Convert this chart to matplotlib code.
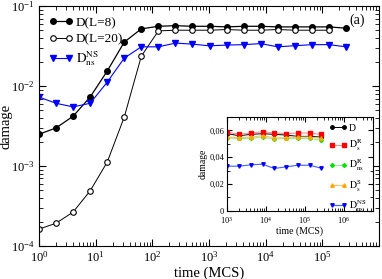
import numpy as np
import matplotlib
matplotlib.use("Agg")
import matplotlib.pyplot as plt
from matplotlib.ticker import LogLocator, NullFormatter, FixedLocator, FixedFormatter

plt.rcParams['font.family'] = ['Liberation Serif', 'DejaVu Serif']
plt.rcParams['mathtext.fontset'] = 'stix'

# main panel data (time in MCS = 2^n)
t8 = 2.0 ** np.arange(19)
d_L8 = [2.5e-3, 3.0e-3, 4.2e-3, 7.3e-3, 1.54e-2, 3.55e-2, 5.2e-2, 5.6e-2, 5.7e-2,
        5.6e-2, 5.6e-2, 5.5e-2, 5.6e-2, 5.6e-2, 5.5e-2, 5.5e-2, 5.5e-2, 5.5e-2, 5.3e-2]
t20 = 2.0 ** np.arange(18)
d_L20 = [1.63e-4, 1.93e-4, 2.66e-4, 4.9e-4, 1.12e-3, 4.1e-3, 2.37e-2, 4.9e-2, 5.0e-2,
         5.0e-2, 5.0e-2, 5.1e-2, 5.0e-2, 5.0e-2, 5.1e-2, 5.0e-2, 5.0e-2, 5.0e-2]
d_nsNS = [7.3e-3, 6.1e-3, 5.5e-3, 6.1e-3, 1.12e-2, 2.24e-2, 3.1e-2, 3.1e-2, 3.45e-2,
          3.35e-2, 3.19e-2, 3.26e-2, 3.3e-2, 3.4e-2, 3.1e-2, 3.2e-2, 3.3e-2, 3.3e-2, 3.1e-2]

# inset data
ti = 2.0 ** np.arange(10, 19)
in_D = [0.0575, 0.056, 0.057, 0.0575, 0.057, 0.0565, 0.0555, 0.0555, 0.055]
in_DsR = [0.0587, 0.057, 0.058, 0.059, 0.058, 0.0575, 0.058, 0.058, 0.057]
in_DnsR = [0.0543, 0.054, 0.054, 0.055, 0.0535, 0.054, 0.054, 0.054, 0.0526]
in_DsS = [0.055, 0.0545, 0.055, 0.056, 0.0545, 0.0545, 0.055, 0.055, 0.054]
in_DnsNS = [0.0333, 0.0333, 0.0343, 0.0348, 0.0316, 0.0328, 0.034, 0.034, 0.0318]

fig = plt.figure(figsize=(3.82, 2.79), dpi=100)
ax = fig.add_axes([0.102, 0.118, 0.890, 0.860])

ax.plot(t8, d_L8, '-o', color='black', lw=0.9, ms=4, label='D(L=8)')
ax.plot(t20, d_L20, '-o', color='black', lw=0.7, ms=4, mfc='white', mew=0.8,
        label='D(L=20)')
ax.plot(t8, d_nsNS, '-v', color='blue', lw=0.8, ms=4.5, markeredgecolor='blue',
        label=r'$\mathrm{D}_{\mathrm{ns}}^{\mathrm{NS}}$')

ax.set_xscale('log')
ax.set_yscale('log')
ax.set_xlim(1, 1e6)
ax.set_ylim(1e-4, 1e-1)
ax.set_xticks([1e0, 1e1, 1e2, 1e3, 1e4, 1e5])
ax.xaxis.set_minor_locator(LogLocator(base=10, subs=np.arange(2, 10), numticks=20))
ax.xaxis.set_minor_formatter(NullFormatter())
ax.tick_params(which='both', direction='in', top=True, right=True, labelsize=9, pad=3)
ax.tick_params(which='major', length=5)
ax.tick_params(which='minor', length=3)
ax.set_xlabel('time (MCS)', fontsize=10.5, labelpad=1)
ax.set_ylabel('damage', fontsize=10.5, labelpad=-1)
ax.text(0.935, 0.94, '(a)', transform=ax.transAxes, fontsize=10, ha='center', va='center')

ax.legend(loc='upper left', frameon=False, numpoints=2, fontsize=9.5,
          handlelength=1.8, handletextpad=0.2, labelspacing=0.3,
          borderaxespad=0.4, bbox_to_anchor=(0.0, 1.0))

# inset
axi = fig.add_axes([0.594, 0.244, 0.382, 0.337])
axi.plot(ti, in_D, '-o', color='black', lw=0.7, ms=2.5, label='D')
axi.plot(ti, in_DsR, '-s', color='#ff9090', mfc='red', mec='red', lw=0.8, ms=2.5,
         label=r'$\mathrm{D}_{\mathrm{s}}^{\mathrm{R}}$')
axi.plot(ti, in_DnsR, '-D', color='#90ee90', mfc='#00e000', mec='#00e000', lw=0.8, ms=2,
         label=r'$\mathrm{D}_{\mathrm{ns}}^{\mathrm{R}}$')
axi.plot(ti, in_DsS, '-^', color='#ffc060', mfc='orange', mec='orange', lw=0.8, ms=2.5,
         label=r'$\mathrm{D}_{\mathrm{s}}^{\mathrm{S}}$')
axi.plot(ti, in_DnsNS, '-v', color='#4060ff', mfc='blue', mec='blue', lw=0.8, ms=2.5,
         label=r'$\mathrm{D}_{\mathrm{ns}}^{\mathrm{NS}}$')
axi.set_xscale('log')
axi.set_xlim(1e3, 5.5e6)
axi.set_ylim(0, 0.07)
axi.set_xticks([1e3, 1e4, 1e5, 1e6])
axi.xaxis.set_minor_locator(LogLocator(base=10, subs=np.arange(2, 10), numticks=20))
axi.xaxis.set_minor_formatter(NullFormatter())
axi.yaxis.set_major_locator(FixedLocator([0, 0.02, 0.04, 0.06]))
axi.yaxis.set_major_formatter(FixedFormatter(['0', '0,02', '0,04', '0,06']))
axi.yaxis.set_minor_locator(FixedLocator([0.01, 0.03, 0.05]))
axi.tick_params(which='both', direction='in', top=True, right=True, labelsize=6, pad=2)
axi.tick_params(axis='x', pad=3)
axi.tick_params(which='major', length=3.5)
axi.tick_params(which='minor', length=2)
axi.set_xlabel('time (MCS)', fontsize=7, labelpad=0)
axi.set_ylabel('damage', fontsize=7, labelpad=1)
axi.legend(loc='upper right', frameon=False, numpoints=2, fontsize=7,
           handlelength=1.8, handletextpad=0.2, labelspacing=0.45, borderaxespad=0.3)

fig.savefig('out.png', dpi=100)
